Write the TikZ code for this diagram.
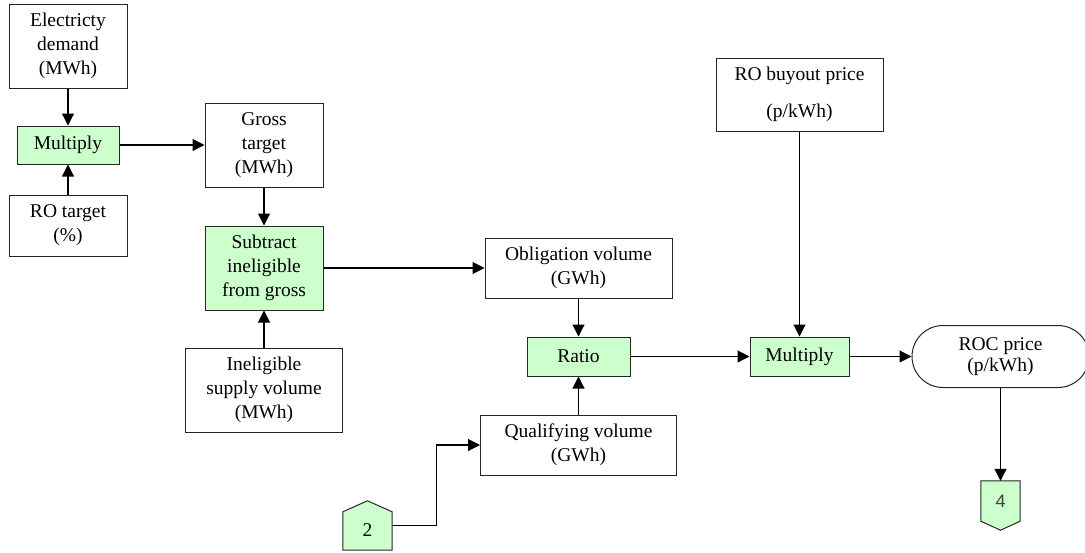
\documentclass[tikz,border=0pt]{standalone}
\usepackage{fontspec}
\setmainfont{Liberation Serif}
\newfontfamily\arialfont{Liberation Sans}
\usetikzlibrary{arrows.meta,calc}
\definecolor{opgreen}{RGB}{204,255,204}
\begin{document}
\begin{tikzpicture}[x=1pt,y=-1pt,
  every node/.style={font=\fontsize{19.5}{24}\selectfont, align=center, inner sep=0pt},
  box/.style={draw=black!85, line width=1pt, fill=white},
  op/.style={box, fill=opgreen},
  link/.style={line width=1.1pt, -{Triangle[length=12pt,width=12pt]}},
  sz/.style 2 args={minimum width=#1, minimum height=#2},
]
\useasboundingbox (0,0) rectangle (1085,552);

% input and intermediate quantities
\node[box, sz={118}{84}] (ed)    at (68,46)     {Electricty\\demand\\(MWh)};
\node[op,  sz={102}{38}] (m1)    at (68,145)    {Multiply};
\node[box, sz={118}{61}] (rot)   at (68,225.5)  {RO target\\(\%)};
\node[box, sz={118}{84}] (gross) at (264,145)   {Gross\\target\\(MWh)};
\node[op,  sz={118}{84}] (sub)   at (264,268)   {Subtract\\ineligible\\from gross};
\node[box, sz={157}{84}] (inel)  at (264,390)   {Ineligible\\supply volume\\(MWh)};
\node[box, sz={187}{60}] (obl)   at (578.5,268) {Obligation volume\\(GWh)};
\node[op,  sz={103}{39}] (ratio) at (578.5,356.5) {Ratio};
\node[box, sz={196}{60}] (qual)  at (578.5,445) {Qualifying volume\\(GWh)};
\node[box, sz={167}{73}, font=\fontsize{19.5}{37}\selectfont] (rob) at (799.5,94.5) {RO buyout price\\(p/kWh)};
\node[op,  sz={99}{39}]  (m2)    at (799.5,356.5) {Multiply};
\node[box, sz={177}{62}, rounded corners=31pt, font=\fontsize{19.5}{21}\selectfont] (roc) at (1000.5,356.5) {ROC price\\(p/kWh)};

% off-page connectors
\node[sz={49}{49}] (two) at (367.5,525.5) {};
\path[op] (two.south west) -- (two.south east) -- ($(two.north east)+(0,-11pt)$)
  -- (two.north) -- ($(two.north west)+(0,-11pt)$) -- cycle;
\node (twotext) at ([yshift=-5pt]two.center) {2};

\node[sz={39}{49}] (four) at (1000.5,505.5) {};
\path[op] (four.north west) -- (four.north east) -- ($(four.south east)+(0,9pt)$)
  -- (four.south) -- ($(four.south west)+(0,9pt)$) -- cycle;
\node[font=\arialfont\fontsize{18}{20}\selectfont, text=black!75] (fourtext) at ([yshift=4.5pt]four.center) {4};

% flows
\draw[link] (ed) -- (m1);
\draw[link] (rot) -- (m1);
\draw[link] (m1) -- (gross);
\draw[link] (gross) -- (sub);
\draw[link] (inel) -- (sub);
\draw[link] (sub) -- (obl);
\draw[link] (obl) -- (ratio);
\draw[link] (qual) -- (ratio);
\draw[link] (ratio) -- (m2);
\draw[link] (rob) -- (m2);
\draw[link] (m2) -- (roc);
\draw[link] (roc) -- (four);
\draw[link] (two.east) -- ++(44.5,0) |- (qual.west);
\end{tikzpicture}
\end{document}
